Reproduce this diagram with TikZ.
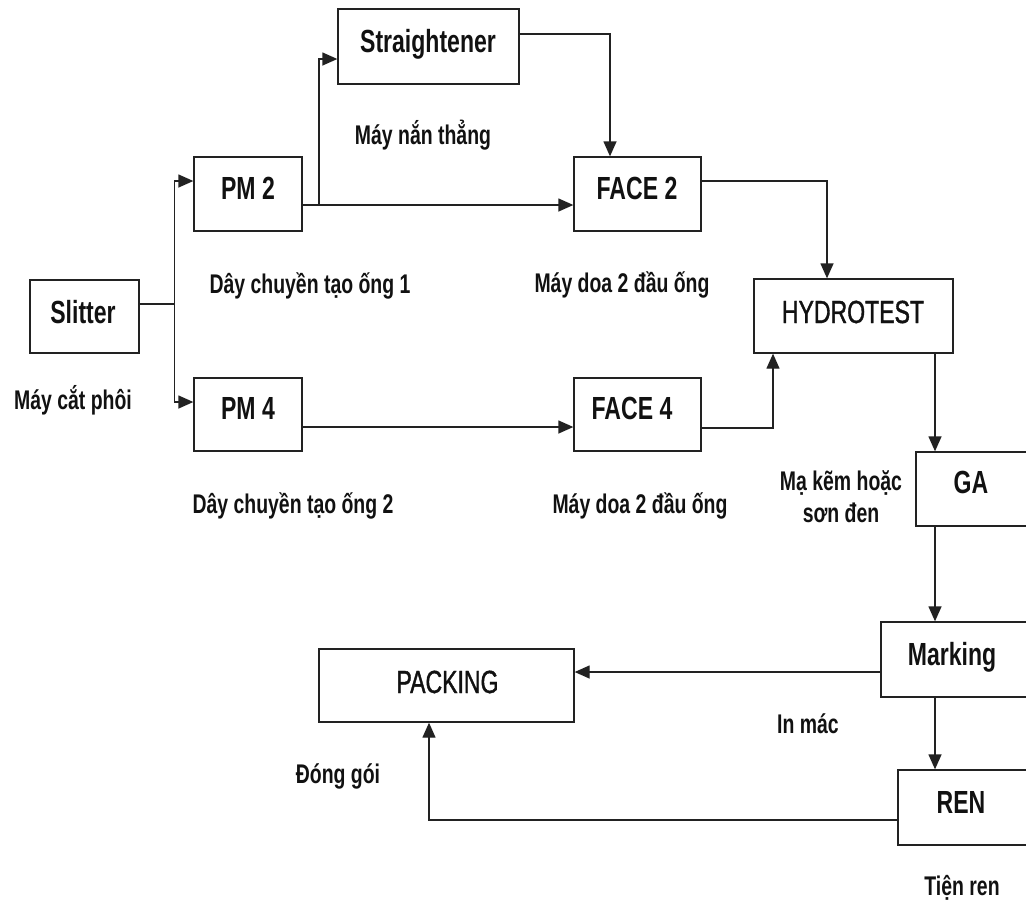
\documentclass[tikz,border=0pt]{standalone}
\usepackage{fontspec}
\setmainfont{Liberation Sans}[FakeStretch=0.72]
\newfontfamily\medfont{Liberation Sans}[FakeStretch=0.72,FakeBold=1.2]
\usetikzlibrary{calc,arrows.meta}
\definecolor{linec}{HTML}{222222}
\definecolor{textc}{HTML}{111111}

\begin{document}
\begin{tikzpicture}[x=1pt,y=-1pt,
  box/.style={draw=linec,line width=1.3pt,rectangle,inner sep=0pt},
  boxtxt/.style={anchor=base,inner sep=0pt,text=textc,font=\fontsize{32}{36}\selectfont\bfseries},
  boxtxtlight/.style={anchor=base,inner sep=0pt,text=textc,font=\fontsize{32}{36}\medfont},
  lab/.style={anchor=base,inner sep=0pt,text=textc,font=\fontsize{27}{31}\selectfont\bfseries},
  conn/.style={draw=linec,line width=1.3pt},
  arr/.style={conn,-{Triangle[length=15pt,width=13pt]}}
]
\useasboundingbox (0,0) rectangle (1026,903);
\clip (0,0) rectangle (1026,903);

% process boxes
\node[box,minimum width=109pt,minimum height=73pt] (sl)   at (84.5,316.5) {};
\node[box,minimum width=108pt,minimum height=74pt] (pm2)  at (248,194)    {};
\node[box,minimum width=108pt,minimum height=73pt] (pm4)  at (248,414.5)  {};
\node[box,minimum width=181pt,minimum height=75pt] (str)  at (428.5,46.5) {};
\node[box,minimum width=127pt,minimum height=74pt] (f2)   at (637.5,194)  {};
\node[box,minimum width=127pt,minimum height=73pt] (f4)   at (637.5,414.5){};
\node[box,minimum width=199pt,minimum height=74pt] (hyd)  at (853.5,316)  {};
\node[box,minimum width=114pt,minimum height=74pt] (ga)   at (973,489)    {};
\node[box,minimum width=149pt,minimum height=75pt] (mark) at (955.5,659.5){};
\node[box,minimum width=255pt,minimum height=73pt] (pack) at (446.5,685.5){};
\node[box,minimum width=132pt,minimum height=75pt] (ren)  at (964,807.5)  {};

% box titles
\node[boxtxt] (slT)   at (83,323)  {Slitter};
\node[boxtxt] (pm2T)  at (248,199) {PM 2};
\node[boxtxt] (pm4T)  at (248,419) {PM 4};
\node[boxtxt] (strT)  at (428,52)  {Straightener};
\node[boxtxt] (f2T)   at (637,199) {FACE 2};
\node[boxtxt] (f4T)   at (632,419) {FACE 4};
\node[boxtxtlight] (hydT) at (853,323) {HYDROTEST};
\node[boxtxt] (gaT)   at (971,493) {GA};
\node[boxtxt] (markT) at (952,665) {Marking};
\node[boxtxtlight] (packT) at (447.5,693) {PACKING};
\node[boxtxt] (renT)  at (961,813) {REN};

% captions
\node[lab] (c1)  at (423,144) {Máy nắn thẳng};
\node[lab] (c2)  at (310,293) {Dây chuyền tạo ống 1};
\node[lab] (c3)  at (73,409)  {Máy cắt phôi};
\node[lab] (c4)  at (622,292) {Máy doa 2 đầu ống};
\node[lab] (c5)  at (293,513) {Dây chuyền tạo ống 2};
\node[lab] (c6)  at (640,513) {Máy doa 2 đầu ống};
\node[lab] (c7a) at (841,490) {Mạ kẽm hoặc};
\node[lab] (c7b) at (841,522) {sơn đen};
\node[lab] (c8)  at (808,733) {In mác};
\node[lab] (c9)  at (338,783) {Đóng gói};
\node[lab] (c10) at (962,895) {Tiện ren};

% junctions and connector end points
\coordinate (sj) at (174.5,304);
\coordinate (pj) at (319,205);
\coordinate (hx) at ($(hyd.south)+(81.5,0)$);
\coordinate (mk) at ($(mark.west)+(0,12.5)$);
\coordinate (rn) at ($(ren.west)+(0,12.5)$);

% connectors
\draw[conn] (sj -| sl.east) -- (sj);
\draw[arr] (sj) |- ($(pm2.west)+(0,-13)$);
\draw[arr] (sj) |- ($(pm4.west)+(0,-12.5)$);
\draw[arr] ($(pm2.east)+(0,11)$) -- ($(f2.west)+(0,11)$);
\draw[arr] (pj) |- ($(str.west)+(0,12.5)$);
\draw[arr] ($(str.east)+(0,-12.5)$) -| ($(f2.north)+(-27.5,0)$);
\draw[arr] ($(f2.east)+(0,-13)$) -| ($(hyd.north)+(-26.5,0)$);
\draw[arr] ($(pm4.east)+(0,12.5)$) -- ($(f4.west)+(0,12.5)$);
\draw[arr] ($(f4.east)+(0,13.5)$) -| ($(hyd.south)+(-80.5,0)$);
\draw[arr] (hx) -- (hx |- ga.north);
\draw[arr] (hx |- ga.south) -- (hx |- mark.north);
\draw[arr] (hx |- mark.south) -- (hx |- ren.north);
\draw[arr] (mk) -- (mk -| pack.east);
\draw[arr] (rn) -| ($(pack.south)+(-17.5,0)$);
\end{tikzpicture}
\end{document}
